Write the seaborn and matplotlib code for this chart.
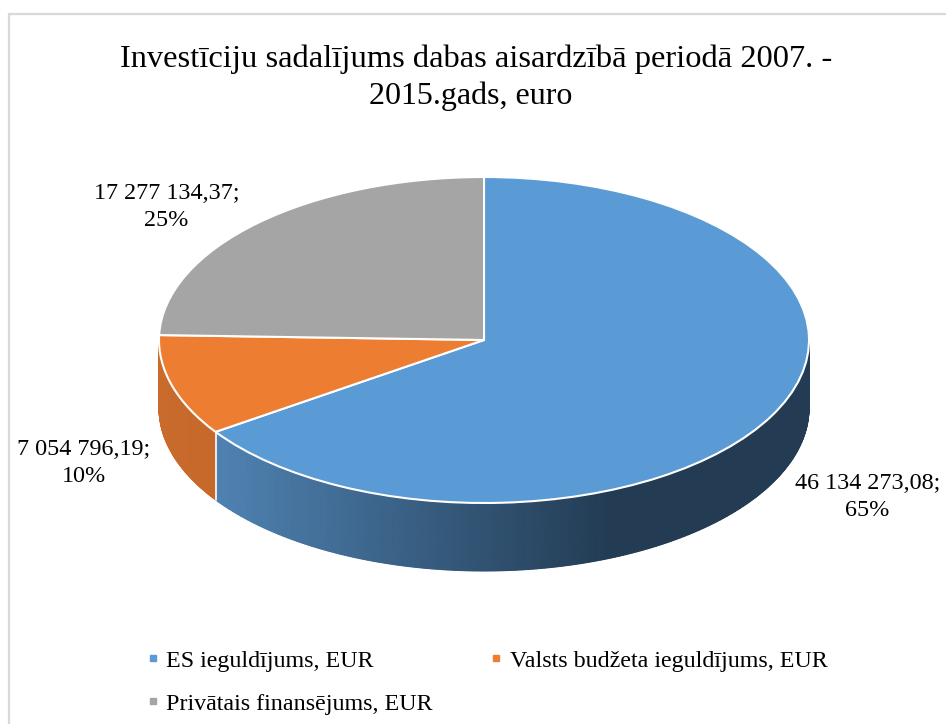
import numpy as np
import pandas as pd
import matplotlib
matplotlib.use("Agg")
import matplotlib.pyplot as plt
from matplotlib.lines import Line2D
from matplotlib.patches import Rectangle
import seaborn as sns

# data
categories = ["ES ieguldījums, EUR", "Valsts budžeta ieguldījums, EUR", "Privātais finansējums, EUR"]
values = [46134273.08, 7054796.19, 17277134.37]
colors = ["#5B9BD5", "#ED7D31", "#A5A5A5"]
title = "Investīciju sadalījums dabas aisardzībā periodā 2007. -\n2015.gads, euro"

df = pd.DataFrame({"cat": categories, "val": values})
df["pct"] = df["val"] / df["val"].sum() * 100

W, H = 946, 724
CX, CY, RX, RY, DEPTH = 484, 340, 325, 163, 68


def fx(px):
    return px / W


def fy(py):
    return 1 - py / H


def label_text(v, p):
    s = f"{v:,.2f}".replace(",", " ").replace(".", ",")
    return f"{s};\n{p:.0f}%"


sns.set_theme(style="white")
plt.rcParams["font.family"] = ["Liberation Serif", "DejaVu Serif"]

fig = plt.figure(figsize=(W / 100, H / 100), dpi=100, facecolor="white")
ax = fig.add_axes([0, 0, 1, 1])

# side wall, only the front half of the cylinder shows
d = DEPTH / RY
angles = 90 - np.cumsum([0] + list(df["pct"] * 3.6))
side_blue = sns.blend_palette(["#4F82B2", "#233C54"], as_cmap=True)
side_orange = sns.blend_palette(["#C96B2B", "#C5682A"], as_cmap=True)

# blue runs from the orange border to the right edge, orange from the left edge to blue
th = np.radians(np.linspace(angles[1], 0, 400))
x, y = np.cos(th), np.sin(th)
X = np.vstack([x, x])
Y = np.vstack([y, y - d])
grad = np.clip((X - x[0]) / (0.388 - x[0]), 0, 1)
ax.pcolormesh(X, Y, grad, cmap=side_blue, shading="gouraud", vmin=0, vmax=1, zorder=1)
ax.plot([x[0], x[0]], [y[0], y[0] - d], color="white", lw=1.2, zorder=2)

th = np.radians(np.linspace(-180, angles[1], 100))
x, y = np.cos(th), np.sin(th)
X = np.vstack([x, x])
Y = np.vstack([y, y - d])
ax.pcolormesh(X, Y, (X - x[0]) / (x[-1] - x[0]), cmap=side_orange, shading="gouraud", zorder=1)

# top of the pie
ax.pie(df["val"], colors=colors, startangle=90, counterclock=False, radius=1,
       wedgeprops={"edgecolor": "white", "linewidth": 1.5, "zorder": 3})
ax.set_aspect("auto")
ax.set_xlim(-CX / RX, (W - CX) / RX)
ax.set_ylim(-(H - CY) / RY, CY / RY)
ax.axis("off")

# chart border
fig.add_artist(Rectangle((fx(9), fy(H + 20)), 1.0, fy(14) - fy(H + 20), transform=fig.transFigure,
                         fill=False, edgecolor="#D9D9D9", lw=1.6))

fig.text(fx(476.5), fy(59), title.split("\n")[0], ha="center", va="center", fontsize=23.4, color="black")
fig.text(fx(471), fy(96), title.split("\n")[1], ha="center", va="center", fontsize=23, color="black")

label_pos = [(867.5, 497), (83.5, 463), (166.5, 207)]
for (px, py), v, p in zip(label_pos, df["val"], df["pct"]):
    fig.text(fx(px), fy(py), label_text(v, p), ha="center", va="center", fontsize=17.4,
             color="black", linespacing=1.4)

handles = [Line2D([], [], ls="none", marker="s", ms=5, color=c) for c in colors]
order = [0, 2, 1]
fig.legend([handles[i] for i in order], [categories[i] for i in order], ncol=2, frameon=False,
           loc="upper left", bbox_to_anchor=(fx(147), fy(650)), fontsize=17.3, labelcolor="black",
           labelspacing=0.87, handlelength=0.5, handletextpad=0.3, columnspacing=2.4,
           borderaxespad=0, borderpad=0)

fig.savefig("out.png", dpi=100)
